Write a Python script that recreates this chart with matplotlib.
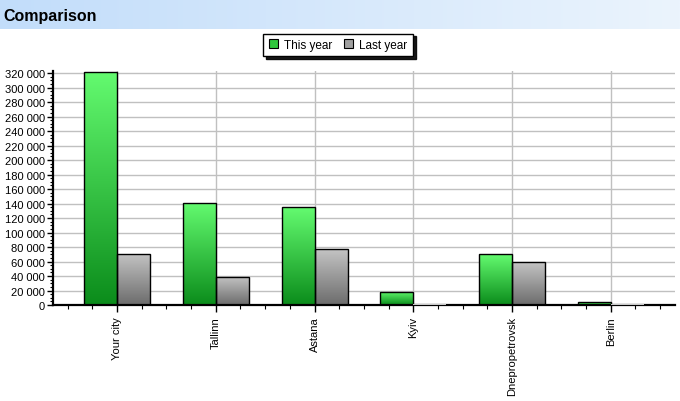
import numpy as np
import matplotlib
matplotlib.use('Agg')
import matplotlib.pyplot as plt
from matplotlib.colors import LinearSegmentedColormap
from matplotlib.ticker import MultipleLocator, FuncFormatter
from matplotlib.patches import Patch

cities = ["Your city", "Tallinn", "Astana", "Kyiv", "Dnepropetrovsk", "Berlin"]
this_year = [322000, 141000, 135000, 18000, 70000, 4000]
last_year = [71000, 39000, 77000, 0, 59000, 0]
series_names = ["This year", "Last year"]
title = "Comparison"

plt.rcParams['font.family'] = ['Liberation Sans', 'DejaVu Sans']

W, H = 680, 402
fig = plt.figure(figsize=(W / 100, H / 100), dpi=100)

# header banner
bax = fig.add_axes([0, 1 - 30 / H, 1, 30 / H])
grad_h = np.linspace(0, 1, 256).reshape(1, -1)
bcmap = LinearSegmentedColormap.from_list('b', ['#c2ddfa', '#ebf4fd'])
bax.imshow(grad_h, aspect='auto', cmap=bcmap, extent=[0, 1, 0, 1])
bax.set_axis_off()
fig.text(3 / W, 1 - 16 / H, title, fontsize=11.5, fontweight='bold',
         va='center', ha='left', color='black')

ax = fig.add_axes([53 / W, 1 - 306 / H, 622 / W, (306 - 71.5) / H])
x = np.arange(len(cities))
w = 0.334

green_cmap = LinearSegmentedColormap.from_list('g', ['#0b8c1b', '#64fb70'])
gray_cmap = LinearSegmentedColormap.from_list('k', ['#6c6c6c', '#c4c4c4'])
grad_v = np.linspace(0, 1, 256).reshape(-1, 1)

for vals, offset, cmap in [(this_year, -w, green_cmap), (last_year, 0.0, gray_cmap)]:
    bars = ax.bar(x + offset, vals, w, align='edge', facecolor='none',
                  edgecolor='black', linewidth=1.0, zorder=3)
    for b, v in zip(bars, vals):
        if v > 0:
            im = ax.imshow(grad_v, cmap=cmap, aspect='auto', origin='lower',
                           extent=[b.get_x(), b.get_x() + b.get_width(), 0, b.get_height()],
                           zorder=2)
            im.set_clip_path(b)
        else:
            b.set_edgecolor('#c8c8c8')
            b.set_linewidth(1.5)
            b.set_zorder(4)

ax.set_xlim(-0.648, 5.65)
ax.set_ylim(0, 323500)

ax.yaxis.set_major_locator(MultipleLocator(20000))
ax.yaxis.set_minor_locator(MultipleLocator(5000))
ax.yaxis.set_major_formatter(FuncFormatter(lambda v, p: f"{v:,.0f}".replace(',', ' ')))
ax.set_xticks(x)
ax.set_xticklabels(cities, rotation=90, va='top', ha='center')
ax.xaxis.set_minor_locator(MultipleLocator(0.25))

ax.tick_params(axis='y', which='major', length=4, width=1, labelsize=8, pad=2)
ax.tick_params(axis='y', which='minor', length=2, width=0.8)
ax.tick_params(axis='x', which='major', length=5, width=1, labelsize=8, pad=3)
ax.tick_params(axis='x', which='minor', length=3, width=0.8)

ax.set_axisbelow(True)
ax.grid(which='major', color='#c0c0c0', linewidth=1)
for s in ['top', 'right']:
    ax.spines[s].set_visible(False)
for s in ['left', 'bottom']:
    ax.spines[s].set_linewidth(1.6)
    ax.spines[s].set_color('black')

handles = [Patch(facecolor='#2fc63c', edgecolor='black', linewidth=0.8),
           Patch(facecolor='#a0a0a0', edgecolor='black', linewidth=0.8)]
leg = fig.legend(handles, series_names, loc='center', bbox_to_anchor=(338 / W, 1 - 46 / H),
                 ncol=2, fontsize=8.5, frameon=True, fancybox=False,
                 shadow={'color': 'black', 'alpha': 0.9},
                 handlelength=0.8, handleheight=0.8, handletextpad=0.5,
                 columnspacing=1.0, borderpad=0.45)
leg.get_frame().set_edgecolor('black')
leg.get_frame().set_linewidth(1)

fig.savefig('out.png', dpi=100)
